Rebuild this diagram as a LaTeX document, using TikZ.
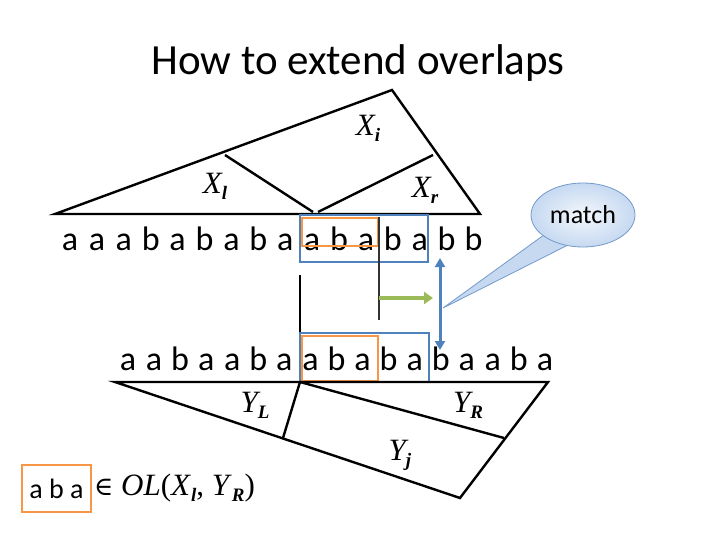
\documentclass[tikz,border=0pt]{standalone}
\usepackage{fontspec}
\setmainfont{Carlito}
\newfontfamily\tms{Liberation Serif}
\newfontfamily\dv{DejaVu Serif}
\usetikzlibrary{arrows.meta,shapes.geometric,shadings}
\definecolor{stblue}{HTML}{4F81BD}
\definecolor{olgreen}{HTML}{9BBB59}
\definecolor{orng}{HTML}{F79646}
\definecolor{calfill}{HTML}{C6D9F1}
\begin{document}
\begin{tikzpicture}[x=1pt,y=-1pt,
  tree/.style={line width=2.4pt,line join=miter},
  letter/.style={font=\fontsize{34}{36}\selectfont,inner sep=0pt,anchor=base},
  lab/.style={font=\tms\itshape\fontsize{31}{33}\selectfont,inner sep=0pt},
  bluebox/.style={draw=stblue,line width=2.2pt},
  orbox/.style={draw=orng,line width=2.4pt}]
\useasboundingbox (0,0) rectangle (720,540);
\node[font=\fontsize{43}{46}\selectfont] (title) at (358,63) {How to extend overlaps};
% top tree
\coordinate (A) at (392,90); \coordinate (L) at (55,214); \coordinate (R) at (480,214);
\coordinate (B) at (225,155); \coordinate (C) at (313,212); \coordinate (D) at (433,155); \coordinate (E) at (318,212);
\draw[tree] (L) -- (A) -- (R) -- cycle;
\draw[tree] (B) -- (C);
\draw[tree] (E) -- (D);
\newcommand{\sbx}[1]{\raisebox{-6pt}{\fontsize{19}{20}\selectfont\textbf{\textit{#1}}}}
\node[lab] (xi) at (368,128) {X\sbx{i}};
\node[lab] (xl) at (215,186) {X\sbx{l}};
\node[lab] (xr) at (425,190) {X\sbx{r}};
% top string
\foreach \c [count=\i from 0] in {a,a,a,b,a,b,a,b,a,a,b,a,b,a,b,b}
  \node[letter] (t\i) at (70+26.9*\i,250) {\c};
% bottom string
\foreach \c [count=\i from 0] in {a,a,b,a,a,b,a,a,b,a,b,a,b,a,a,b,a}
  \node[letter] (s\i) at (128+26.06*\i,370) {\c};
% boxes
\draw[orbox] (302,218) rectangle (378,246);
\draw[bluebox] (300,215) rectangle (428,262);
\draw[orbox] (302,336) rectangle (378,381);
\draw[bluebox] (300,333) rectangle (429,382);
% vertical lines
\coordinate (v1t) at (379,217); \coordinate (v1b) at (379,320);
\draw[line width=1.8pt,black!80] (v1t) -- (v1b);
\coordinate (v2t) at (300,275); \coordinate (v2b) at (300,332);
\draw[line width=1.8pt] (v2t) -- (v2b);
% green arrow
\coordinate (g1) at (379,298); \coordinate (g2) at (433,298);
\draw[line width=3.5pt,draw=olgreen,-{Triangle[length=9pt,width=12pt]}] (g1) -- (g2);
% blue double arrow
\coordinate (b1) at (440,258); \coordinate (b2) at (440,350);
\draw[line width=3pt,draw=stblue,{Triangle[length=9pt,width=10pt]}-{Triangle[length=9pt,width=10pt]}] (b1) -- (b2);
% callout
\coordinate (tip) at (443,308);
\fill[calfill] (548,232) -- (tip) -- (568,245) -- cycle;
\draw[stblue!80,line width=0.8pt] (548,232) -- (tip) -- (568,245);
\node[ellipse,draw=stblue!80,line width=0.8pt,inner color=white!80!calfill,outer color=calfill,minimum width=104pt,minimum height=64pt,font=\fontsize{26}{28}\selectfont] (match) at (583,215) {match};
% bottom tree
\coordinate (P) at (115,382); \coordinate (Q) at (548,382); \coordinate (S) at (460,498);
\coordinate (U) at (300,382); \coordinate (V) at (283,438); \coordinate (W) at (504,438);
\draw[tree] (P) -- (Q) -- (S) -- cycle;
\draw[tree] (U) -- (V);
\draw[tree] (U) -- (W);
\node[lab] (yl) at (255,405) {Y\sbx{L}};
\node[lab] (yr) at (468,405) {Y\sbx{R}};
\node[lab] (yj) at (400,455) {Y\sbx{j}};
% membership
\node[orbox,font=\fontsize{28}{30}\selectfont,minimum width=69pt,minimum height=47pt,inner sep=0pt] (aba) at (56.5,488.5) {a b a};
\node[anchor=west,inner sep=0pt,font=\tms\fontsize{31}{33}\selectfont] (ol) at (94,488) {{\dv\fontsize{26}{28}\selectfont ∈} \textit{OL}(\textit{X}\sbx{l}, \textit{Y}\sbx{R})};
\end{tikzpicture}
\end{document}
